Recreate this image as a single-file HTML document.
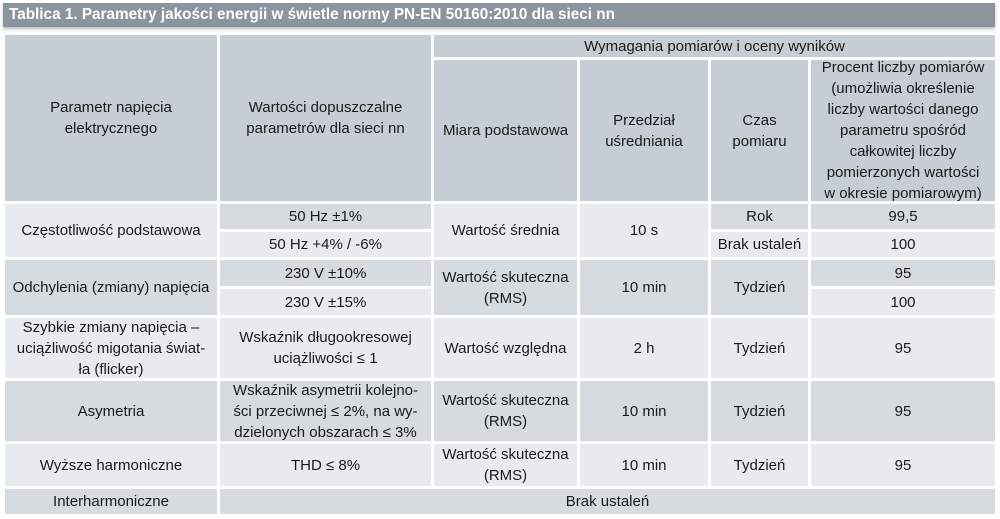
<!DOCTYPE html>
<html><head><meta charset="utf-8"><style>
body{margin:0;width:1000px;height:519px;background:#fff;position:relative;overflow:hidden;font-family:"Liberation Sans",Arial,sans-serif;color:#1a1a1a;}
.t{position:absolute;left:3px;top:3px;width:992px;height:24px;background:#8c959d;color:#fff;font-size:15.3px;font-weight:bold;line-height:24px;padding-left:6px;box-sizing:border-box;box-shadow:0 2px 3px #bbb;}
.c{position:absolute;display:flex;align-items:center;justify-content:center;text-align:center;font-size:15px;line-height:21px;box-sizing:border-box;white-space:nowrap;}
.h{background:#c6cdd4;}
.a{background:#e8ebee;}
.b{background:#d6dbe0;}
</style></head><body>
<div class="t">Tablica 1. Parametry jakości energii w świetle normy PN-EN 50160:2010 dla sieci nn</div>

<div class="c h" style="left:5px;top:35px;width:212px;height:166px">Parametr napięcia<br>elektrycznego</div>
<div class="c h" style="left:220px;top:35px;width:211px;height:166px">Wartości dopuszczalne<br>parametrów dla sieci nn</div>
<div class="c h" style="left:434px;top:35px;width:561px;height:22px">Wymagania pomiarów i oceny wyników</div>
<div class="c h" style="left:434px;top:60px;width:143px;height:141px">Miara podstawowa</div>
<div class="c h" style="left:580px;top:60px;width:128px;height:141px">Przedział<br>uśredniania</div>
<div class="c h" style="left:711px;top:60px;width:97px;height:141px">Czas<br>pomiaru</div>
<div class="c h" style="left:811px;top:60px;width:184px;height:141px">Procent liczby pomiarów<br>(umożliwia określenie<br>liczby wartości danego<br>parametru spośród<br>całkowitej liczby<br>pomierzonych wartości<br>w okresie pomiarowym)</div>

<div class="c a" style="left:5px;top:204px;width:212px;height:53px">Częstotliwość podstawowa</div>
<div class="c b" style="left:220px;top:204px;width:211px;height:25px">50 Hz ±1%</div>
<div class="c a" style="left:220px;top:232px;width:211px;height:25px">50 Hz +4% / -6%</div>
<div class="c a" style="left:434px;top:204px;width:143px;height:53px">Wartość średnia</div>
<div class="c a" style="left:580px;top:204px;width:128px;height:53px">10 s</div>
<div class="c b" style="left:711px;top:204px;width:97px;height:25px">Rok</div>
<div class="c a" style="left:711px;top:232px;width:97px;height:25px">Brak ustaleń</div>
<div class="c b" style="left:811px;top:204px;width:184px;height:25px">99,5</div>
<div class="c a" style="left:811px;top:232px;width:184px;height:25px">100</div>

<div class="c b" style="left:5px;top:260px;width:212px;height:55px">Odchylenia (zmiany) napięcia</div>
<div class="c b" style="left:220px;top:260px;width:211px;height:26px">230 V ±10%</div>
<div class="c a" style="left:220px;top:289px;width:211px;height:26px">230 V ±15%</div>
<div class="c b" style="left:434px;top:260px;width:143px;height:55px">Wartość skuteczna<br>(RMS)</div>
<div class="c b" style="left:580px;top:260px;width:128px;height:55px">10 min</div>
<div class="c b" style="left:711px;top:260px;width:97px;height:55px">Tydzień</div>
<div class="c b" style="left:811px;top:260px;width:184px;height:26px">95</div>
<div class="c a" style="left:811px;top:289px;width:184px;height:26px">100</div>

<div class="c a" style="left:5px;top:318px;width:212px;height:60px">Szybkie zmiany napięcia –<br>uciążliwość migotania świat-<br>ła (flicker)</div>
<div class="c a" style="left:220px;top:318px;width:211px;height:60px">Wskaźnik długookresowej<br>uciążliwości ≤ 1</div>
<div class="c a" style="left:434px;top:318px;width:143px;height:60px">Wartość względna</div>
<div class="c a" style="left:580px;top:318px;width:128px;height:60px">2 h</div>
<div class="c a" style="left:711px;top:318px;width:97px;height:60px">Tydzień</div>
<div class="c a" style="left:811px;top:318px;width:184px;height:60px">95</div>

<div class="c b" style="left:5px;top:381px;width:212px;height:60px">Asymetria</div>
<div class="c b" style="left:220px;top:381px;width:211px;height:60px">Wskaźnik asymetrii kolejno-<br>ści przeciwnej ≤ 2%, na wy-<br>dzielonych obszarach ≤ 3%</div>
<div class="c b" style="left:434px;top:381px;width:143px;height:60px">Wartość skuteczna<br>(RMS)</div>
<div class="c b" style="left:580px;top:381px;width:128px;height:60px">10 min</div>
<div class="c b" style="left:711px;top:381px;width:97px;height:60px">Tydzień</div>
<div class="c b" style="left:811px;top:381px;width:184px;height:60px">95</div>

<div class="c a" style="left:5px;top:444px;width:212px;height:42px">Wyższe harmoniczne</div>
<div class="c a" style="left:220px;top:444px;width:211px;height:42px">THD ≤ 8%</div>
<div class="c a" style="left:434px;top:444px;width:143px;height:42px">Wartość skuteczna<br>(RMS)</div>
<div class="c a" style="left:580px;top:444px;width:128px;height:42px">10 min</div>
<div class="c a" style="left:711px;top:444px;width:97px;height:42px">Tydzień</div>
<div class="c a" style="left:811px;top:444px;width:184px;height:42px">95</div>

<div class="c b" style="left:5px;top:489px;width:212px;height:25px">Interharmoniczne</div>
<div class="c b" style="left:220px;top:489px;width:775px;height:25px">Brak ustaleń</div>
</body></html>
